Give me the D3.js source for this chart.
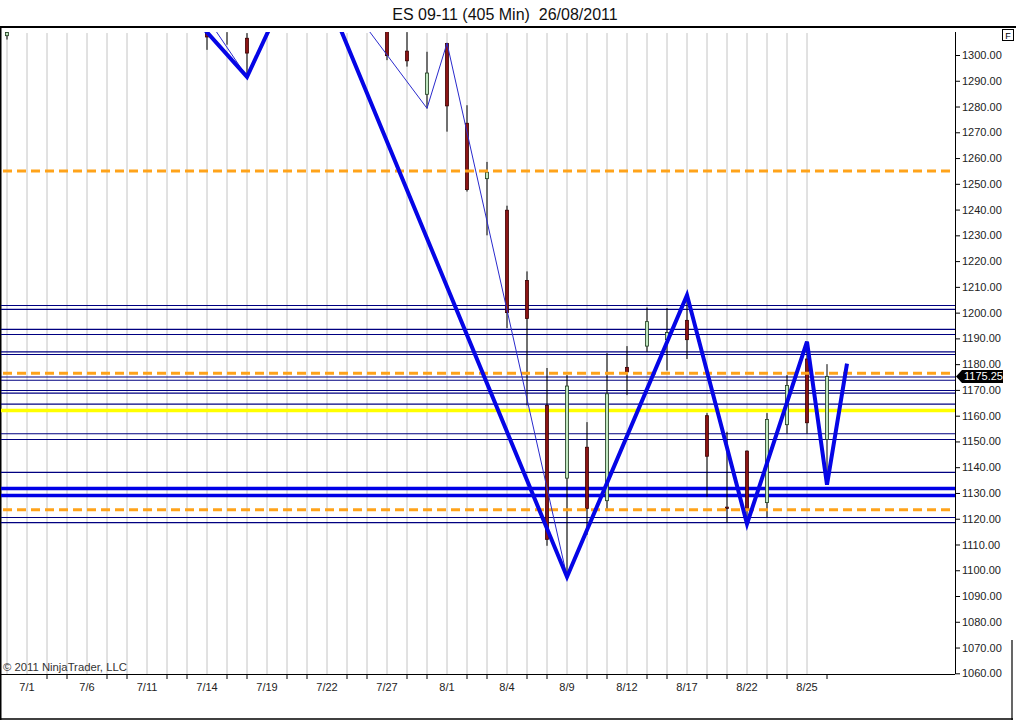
<!DOCTYPE html>
<html>
<head>
<meta charset="utf-8">
<script src="https://cdn.jsdelivr.net/npm/d3@7"></script>
<style>
  html, body { margin: 0; padding: 0; background: #fff; }
  svg { display: block; font-family: "Liberation Sans", Arial, sans-serif; }
</style>
</head>
<body>
<svg id="chart" width="1016" height="720"></svg>
<script>
const TITLE = "ES 09-11 (405 Min)  26/08/2011";
const LAST_PRICE = 1175.25;

// bar index -> OHLC (bars 1-9 and 13-18 sit above the visible range)
const barIndex = [0, 10, 11, 12, 19, 20, 21, 22, 23, 24, 25, 26, 27, 28, 29, 30, 31, 32, 33, 34, 35, 36, 37, 38, 39, 40, 41];
const opens  = [1307.5, 1308.5, 1312, 1306.5, 1312, 1301.5, 1284.75, 1304.5, 1273.5, 1252, 1239.75, 1212.5, 1164, 1135.75, 1147.75, 1127, 1178.75, 1187, 1189.5, 1197, 1160, 1124.5, 1146.25, 1126.25, 1156.5, 1182, 1150.75];
const highs  = [1309, 1312, 1314, 1308.5, 1314, 1312, 1301.25, 1304.75, 1280.5, 1258.5, 1241.5, 1216, 1178.5, 1175.75, 1157.5, 1184.25, 1187, 1202, 1201.75, 1206.75, 1161, 1153.75, 1146.5, 1161, 1175.75, 1188.75, 1180];
const lows   = [1306, 1302, 1304, 1291.5, 1298, 1295.5, 1279.25, 1270.25, 1247, 1230, 1194, 1164, 1109.5, 1097.5, 1113.75, 1123, 1168, 1184.75, 1177.5, 1182, 1128.5, 1118.5, 1118, 1120.5, 1153, 1153, 1133.25];
const closes = [1308.75, 1307, 1310, 1300.75, 1299.75, 1297.75, 1293, 1280.25, 1247.75, 1254.5, 1200, 1197.75, 1112, 1171.5, 1124, 1168.5, 1177, 1196.5, 1192.25, 1189.5, 1144.25, 1124, 1123.5, 1158.5, 1171.75, 1157.25, 1175.25];

// swing lines: [bar index, price]
const swingMajor = [[9, 1317.5], [12, 1291.5], [15, 1341.5], [28, 1097.4], [34, 1206.8], [37, 1118], [40, 1188.7], [41, 1133.2], [42, 1180.2]];
const swingMinor = [[10, 1314.4], [12, 1291.5], [15, 1341.5], [21, 1279.3], [22, 1304.6], [28, 1097.4]];

// horizontal levels
const navyLevels = [1202.75, 1201.25, 1193.5, 1191.5, 1184.75, 1183.75, 1175, 1173.75, 1169.75, 1168.75, 1164.5, 1153, 1150.75, 1138, 1120.5, 1118.5];
const blueLevels = [1131.75, 1129];
const orangeLevels = [1255, 1176.5, 1123.5];
const yellowLevels = [1162];

const priceTicks = [1060, 1070, 1080, 1090, 1100, 1110, 1120, 1130, 1140, 1150, 1160, 1170, 1180, 1190, 1200, 1210, 1220, 1230, 1240, 1250, 1260, 1270, 1280, 1290, 1300];
const dateLabels = ["7/1", "7/6", "7/11", "7/14", "7/19", "7/22", "7/27", "8/1", "8/4", "8/9", "8/12", "8/17", "8/22", "8/25"];
const dateLabelIndex = [1, 4, 7, 10, 13, 16, 19, 22, 25, 28, 31, 34, 37, 40];
const gridCount = 41;   // grid lines on bars 0..40
const tickCount = 42;   // bottom ticks on bars 1..41

const PLOT = { left: 1, right: 955, top: 32, bottom: 674 };

const svg = d3.select("#chart");
const x = d3.scaleLinear().domain([0, 47.4]).range([7, PLOT.right]);
const y = d3.scaleLinear().domain([1060, 1300]).range([673.3, 55]);

// title
svg.append("text")
  .attr("x", 505)
  .attr("y", 19.5)
  .attr("text-anchor", "middle")
  .attr("font-size", 16)
  .attr("fill", "#111")
  .style("white-space", "pre")
  .text(TITLE);

svg.append("defs").append("clipPath")
  .attr("id", "plot-clip")
  .append("rect")
  .attr("x", PLOT.left)
  .attr("y", PLOT.top)
  .attr("width", PLOT.right - PLOT.left)
  .attr("height", PLOT.bottom - PLOT.top);

// frame
svg.append("line").attr("x1", 0).attr("x2", 1016).attr("y1", 27).attr("y2", 27).attr("stroke", "#000").attr("stroke-width", 2);
svg.append("line").attr("x1", 0.5).attr("x2", 0.5).attr("y1", 27).attr("y2", 720).attr("stroke", "#000").attr("stroke-width", 2);
svg.append("line").attr("x1", 0).attr("x2", 1013).attr("y1", 719).attr("y2", 719).attr("stroke", "#000").attr("stroke-width", 1.5);
svg.append("line").attr("x1", 1012).attr("x2", 1012).attr("y1", 640).attr("y2", 720).attr("stroke", "#000").attr("stroke-width", 1.2);

const plot = svg.append("g").attr("clip-path", "url(#plot-clip)");

// vertical grid
plot.selectAll(".grid")
  .data(d3.range(gridCount))
  .join("line")
  .attr("x1", (d) => x(d))
  .attr("x2", (d) => x(d))
  .attr("y1", PLOT.top + 1)
  .attr("y2", PLOT.bottom)
  .attr("stroke", "#c4c4c4")
  .attr("stroke-width", 1);

const drawLevels = (levels, color, width, dash) => {
  plot.selectAll(null)
    .data(levels)
    .join("line")
    .attr("x1", dash ? 3 : PLOT.left)
    .attr("x2", PLOT.right)
    .attr("y1", (d) => y(d))
    .attr("y2", (d) => y(d))
    .attr("stroke", color)
    .attr("stroke-width", width)
    .attr("stroke-dasharray", dash || null);
};

drawLevels(navyLevels, "#000080", 1.1);
drawLevels(yellowLevels, "#ffff00", 3.5);
drawLevels(blueLevels, "#0000e6", 3.5);

// candles
const candles = barIndex.map((i, k) => ({ i, o: opens[k], h: highs[k], l: lows[k], c: closes[k] }));

plot.selectAll(".wick")
  .data(candles)
  .join("line")
  .attr("x1", (d) => x(d.i))
  .attr("x2", (d) => x(d.i))
  .attr("y1", (d) => y(d.h))
  .attr("y2", (d) => y(d.l))
  .attr("stroke", "#000")
  .attr("stroke-width", 1);

plot.selectAll(".body")
  .data(candles)
  .join("rect")
  .attr("x", (d) => x(d.i) - 1.5)
  .attr("width", 3)
  .attr("y", (d) => y(Math.max(d.o, d.c)))
  .attr("height", (d) => Math.max(1, Math.abs(y(d.o) - y(d.c))))
  .attr("fill", (d) => (d.c >= d.o ? "#bfe6bf" : "#8b1414"))
  .attr("stroke", (d) => (d.c >= d.o ? "#1c3a1c" : "#3a0000"))
  .attr("stroke-width", 0.8);

drawLevels(orangeLevels, "#ffa31a", 3, "9,5");

// swing lines
const swingLine = d3.line().x((d) => x(d[0])).y((d) => y(d[1]));

plot.append("path")
  .datum(swingMinor)
  .attr("d", swingLine)
  .attr("fill", "none")
  .attr("stroke", "#2a2acc")
  .attr("stroke-width", 1);

plot.append("path")
  .datum(swingMajor)
  .attr("d", swingLine)
  .attr("fill", "none")
  .attr("stroke", "#0505e6")
  .attr("stroke-width", 4)
  .attr("stroke-linejoin", "miter");

// price axis
const priceAxis = svg.append("g")
  .attr("transform", `translate(${PLOT.right},0)`)
  .call(d3.axisRight(y).tickValues(priceTicks).tickSize(5).tickPadding(2).tickFormat(d3.format(".2f")));

priceAxis.select(".domain").attr("d", `M0.5,${PLOT.top}V${PLOT.bottom}`).attr("stroke", "#000");
priceAxis.selectAll("text")
  .attr("font-size", 11)
  .attr("font-family", "'Liberation Sans', Arial, sans-serif")
  .attr("fill", "#222");

// bottom line and date axis
svg.append("line")
  .attr("x1", 0)
  .attr("x2", PLOT.right)
  .attr("y1", PLOT.bottom + 0.5)
  .attr("y2", PLOT.bottom + 0.5)
  .attr("stroke", "#000");

svg.selectAll(".xtick")
  .data(d3.range(1, tickCount).filter((i) => !dateLabelIndex.includes(i)))
  .join("line")
  .attr("x1", (d) => x(d))
  .attr("x2", (d) => x(d))
  .attr("y1", PLOT.bottom)
  .attr("y2", PLOT.bottom + 5)
  .attr("stroke", "#000");

svg.selectAll(".xlabel")
  .data(dateLabels)
  .join("text")
  .attr("x", (d, k) => x(dateLabelIndex[k]))
  .attr("y", 691)
  .attr("text-anchor", "middle")
  .attr("font-size", 11)
  .attr("fill", "#222")
  .text((d) => d);

// copyright
svg.append("text")
  .attr("x", 3)
  .attr("y", 671)
  .attr("font-size", 11.3)
  .attr("fill", "#333")
  .text("\u00a9 2011 NinjaTrader, LLC");

// last price marker
const markerY = y(LAST_PRICE);
svg.append("path")
  .attr("d", `M${PLOT.right + 1},${markerY} L${PLOT.right + 7},${markerY - 6.5} H1003 V${markerY + 6.5} H${PLOT.right + 7} Z`)
  .attr("fill", "#000");
svg.append("text")
  .attr("x", 964)
  .attr("y", markerY + 4)
  .attr("font-size", 11)
  .attr("fill", "#fff")
  .text(d3.format(".2f")(LAST_PRICE));

// "F" box
svg.append("rect")
  .attr("x", 1002.5)
  .attr("y", 29.5)
  .attr("width", 11)
  .attr("height", 11)
  .attr("fill", "#fff")
  .attr("stroke", "#000");
svg.append("text")
  .attr("x", 1008)
  .attr("y", 38.5)
  .attr("text-anchor", "middle")
  .attr("font-size", 9)
  .attr("fill", "#000")
  .text("F");
</script>
</body>
</html>
